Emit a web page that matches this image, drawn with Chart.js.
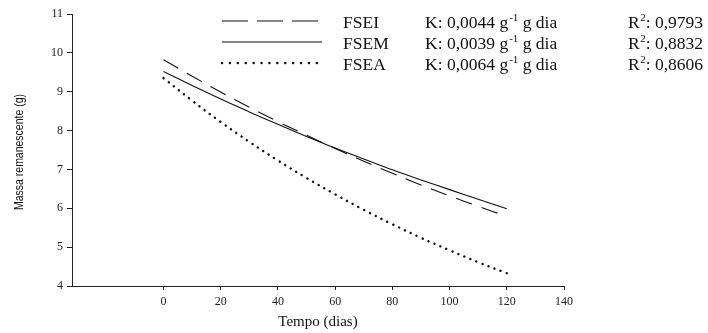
<!DOCTYPE html>
<html>
<head>
<meta charset="utf-8">
<script src="https://cdn.jsdelivr.net/npm/chart.js@4.4.1/dist/chart.umd.min.js"></script>
<style>
  html, body { margin: 0; padding: 0; background: #fff; }
  #wrap { width: 708px; height: 333px; }
</style>
</head>
<body>
<div id="wrap"><canvas id="decayChart" width="708" height="333"></canvas></div>
<script>
// Dias de coleta e massa remanescente (g)
const dias = [0, 10, 20, 30, 40, 50, 60, 70, 80, 90, 100, 110, 120];
const fsei = [9.82, 9.40, 8.99, 8.60, 8.23, 7.88, 7.54, 7.21, 6.90, 6.60, 6.32, 6.05, 5.79];
const fsem = [9.52, 9.16, 8.81, 8.48, 8.16, 7.85, 7.55, 7.27, 6.99, 6.73, 6.48, 6.23, 5.99];
const fsea = [9.35, 8.77, 8.22, 7.71, 7.23, 6.78, 6.36, 5.96, 5.59, 5.24, 4.92, 4.61, 4.33];

const xTicks = [0, 20, 40, 60, 80, 100, 120, 140];
const yTicks = [4, 5, 6, 7, 8, 9, 10, 11];

const legendRows = [
    { name: 'FSEI', k: '0,0044', r2: '0,9793', style: 'dash' },
    { name: 'FSEM', k: '0,0039', r2: '0,8832', style: 'solid' },
    { name: 'FSEA', k: '0,0064', r2: '0,8606', style: 'dot' }
];

const serif = '"Liberation Serif", "DejaVu Serif", serif';

function pts(values) {
    return dias.map((d, i) => ({ x: d, y: values[i] }));
}

// Legenda e títulos dos eixos desenhados à mão
const extras = {
    id: 'extras',
    afterDraw(chart) {
        const ctx = chart.ctx;
        ctx.save();
        ctx.strokeStyle = '#111';
        ctx.fillStyle = '#111';

        legendRows.forEach((row, i) => {
            const ly = 21 + i * 21;
            const ty = ly + 2;
            ctx.beginPath();
            if (row.style === 'dash') {
                ctx.setLineDash([26, 9]);
                ctx.lineWidth = 1.2;
                ctx.lineCap = 'butt';
            } else if (row.style === 'dot') {
                ctx.setLineDash([0.1, 7.8]);
                ctx.lineWidth = 2.4;
                ctx.lineCap = 'round';
            } else {
                ctx.setLineDash([]);
                ctx.lineWidth = 1.2;
                ctx.lineCap = 'butt';
            }
            ctx.moveTo(222, ly);
            ctx.lineTo(322, ly);
            ctx.stroke();
            ctx.setLineDash([]);

            ctx.textBaseline = 'middle';
            ctx.textAlign = 'left';
            ctx.font = '17.5px ' + serif;
            ctx.fillText(row.name, 343, ty);

            let x = 425;
            const part1 = 'K: ' + row.k + ' g';
            ctx.fillText(part1, x, ty);
            x += ctx.measureText(part1).width;
            ctx.font = '11px ' + serif;
            ctx.fillText('-1', x + 1, ty - 5);
            x += ctx.measureText('-1').width + 1;
            ctx.font = '17.5px ' + serif;
            ctx.fillText(' g dia', x, ty);

            x = 628;
            ctx.fillText('R', x, ty);
            x += ctx.measureText('R').width;
            ctx.font = '11px ' + serif;
            ctx.fillText('2', x + 0.5, ty - 5);
            x += ctx.measureText('2').width + 0.5;
            ctx.font = '17.5px ' + serif;
            ctx.fillText(': ' + row.r2, x, ty);
        });

        // título do eixo y (fonte estreita)
        const label = 'Massa remanescente (g)';
        ctx.font = '13px "Liberation Sans", Arial, sans-serif';
        const w = ctx.measureText(label).width;
        ctx.translate(19, 152);
        ctx.rotate(-Math.PI / 2);
        ctx.scale(116 / w, 1);
        ctx.textAlign = 'center';
        ctx.textBaseline = 'middle';
        ctx.fillText(label, 0, 0);
        ctx.restore();

        // título do eixo x
        ctx.save();
        ctx.fillStyle = '#111';
        ctx.font = '15px ' + serif;
        ctx.textAlign = 'center';
        ctx.textBaseline = 'middle';
        ctx.fillText('Tempo (dias)', 318, 322);
        ctx.restore();
    }
};

new Chart(document.getElementById('decayChart'), {
    type: 'line',
    data: {
        datasets: [
            {
                label: 'FSEI',
                data: pts(fsei),
                borderColor: '#111',
                borderWidth: 1.1,
                borderDash: [17, 10],
                pointRadius: 0,
                tension: 0.4,
                fill: false
            },
            {
                label: 'FSEM',
                data: pts(fsem),
                borderColor: '#111',
                borderWidth: 1.1,
                pointRadius: 0,
                tension: 0.4,
                fill: false
            },
            {
                label: 'FSEA',
                data: pts(fsea),
                borderColor: '#111',
                borderWidth: 2.4,
                borderDash: [0.1, 6.4],
                borderCapStyle: 'round',
                pointRadius: 0,
                tension: 0.4,
                fill: false
            }
        ]
    },
    options: {
        responsive: false,
        animation: false,
        devicePixelRatio: 1,
        layout: { padding: { left: 0, right: 144, top: 14, bottom: 0 } },
        plugins: {
            legend: { display: false },
            tooltip: { enabled: false }
        },
        scales: {
            x: {
                type: 'linear',
                min: -32,
                max: 140,
                afterBuildTicks(scale) {
                    scale.ticks = xTicks.map(v => ({ value: v }));
                },
                afterFit(scale) { scale.height = 47; },
                grid: { display: true, drawOnChartArea: false, drawTicks: true, tickLength: 4, color: '#222' },
                border: { display: true, color: '#222', width: 1 },
                ticks: {
                    padding: 5,
                    color: '#222',
                    font: { family: serif, size: 12 },
                    maxRotation: 0
                }
            },
            y: {
                min: 4,
                max: 11,
                afterBuildTicks(scale) {
                    scale.ticks = yTicks.map(v => ({ value: v }));
                },
                afterFit(scale) { scale.width = 72; },
                grid: { display: true, drawOnChartArea: false, drawTicks: true, tickLength: 5, color: '#222' },
                border: { display: true, color: '#222', width: 1 },
                ticks: {
                    padding: 4,
                    color: '#222',
                    font: { family: serif, size: 12 }
                }
            }
        }
    },
    plugins: [extras]
});
</script>
</body>
</html>
